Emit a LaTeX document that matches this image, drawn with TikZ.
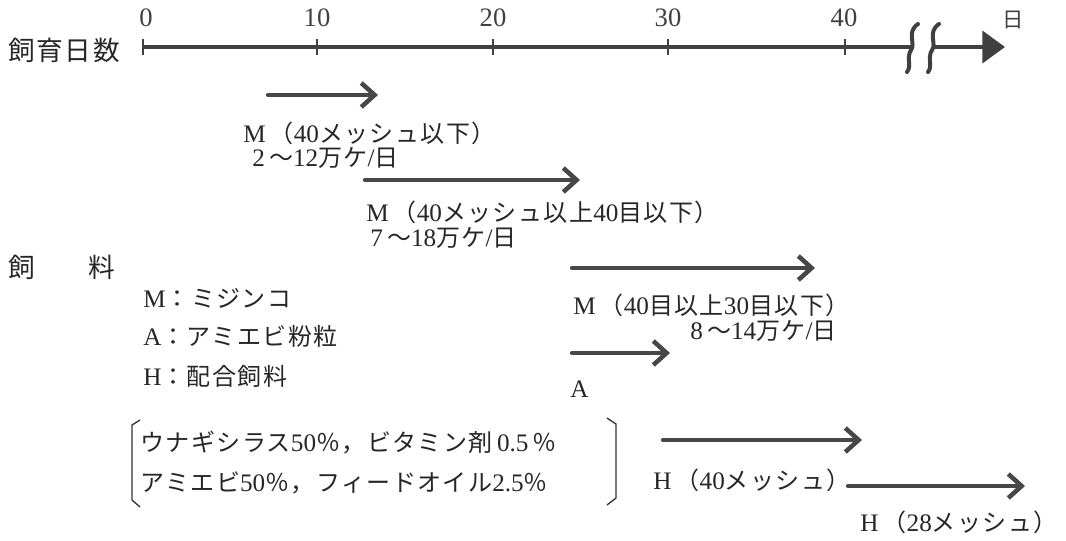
\documentclass[tikz,border=0pt]{standalone}
\usepackage{fontspec}
\setmainfont{Liberation Serif}[Scale=1.05]
\newfontfamily\jpf{Noto Sans CJK JP}[LetterSpace=6]
\newcommand\jpt[1]{{\jpf #1}}
\usetikzlibrary{arrows.meta}
\tikzset{
  lbl/.style={font=\fontsize{18}{20}\selectfont, inner sep=0pt, anchor=west, text=black!85},
  big/.style={font=\fontsize{20}{22}\selectfont, inner sep=0pt, anchor=west, text=black!85},
  num/.style={font=\fontsize{19}{21}\selectfont, inner sep=0pt, text=black!75},
  feed/.style={draw=black!72, line width=3.2pt, line cap=round,
    -{Straight Barb[length=10pt,width=18pt,line width=3.4pt]}},
  axis/.style={draw=black!75, line width=3pt},
  tick/.style={draw=black!75, line width=2pt},
  brk/.style={draw=black!75, line width=3pt, line cap=round},
  brack/.style={draw=black!80, line width=1pt}
}
\begin{document}
\begin{tikzpicture}[x=0.75pt,y=-0.75pt]
\useasboundingbox (0,0) rectangle (1066,540);
% axis
\node[big] (title) at (8,50) {\jpt{飼育日数}};
\coordinate (a0) at (143,47);
\coordinate (a10) at (317,47);
\coordinate (a20) at (493,47);
\coordinate (a30) at (668,47);
\coordinate (a40) at (845,47);
\coordinate (b1) at (913,47);
\coordinate (b2) at (934,47);
\coordinate (aend) at (1005,47);
\draw[axis] (a0) -- (b1);
\draw[axis,-{Triangle[length=17pt,width=24pt]}] (b2) -- (aend);
\foreach \p in {a0,a10,a20,a30,a40}{
  \draw[tick] ([yshift=6pt]\p) -- ([yshift=-6pt]\p);
}
\draw[brk] (918,24) .. controls (906,32) and (916,44) .. (911,50) .. controls (906,58) and (912,66) .. (907,72);
\draw[brk] (939,24) .. controls (927,32) and (937,44) .. (932,50) .. controls (927,58) and (933,66) .. (928,72);
\node[num] (n0) at (146,18) {0};
\node[num] (n10) at (317,18) {10};
\node[num] (n20) at (493,18) {20};
\node[num] (n30) at (668,18) {30};
\node[num] (n40) at (844,18) {40};
\node[num,font=\fontsize{16}{18}\selectfont] (nday) at (1013,20) {\jpt{日}};
% feeds
\coordinate (f1s) at (268,95);  \coordinate (f1e) at (378,95);
\draw[feed] (f1s) -- (f1e);
\node[lbl] (l1a) at (243,133) {M\,\jpt{（}40\jpt{メッシュ以下）}};
\node[lbl] (l1b) at (252,158) {2\,\jpt{～}12\jpt{万ケ}/\jpt{日}};
\coordinate (f2s) at (365,180);  \coordinate (f2e) at (580,180);
\draw[feed] (f2s) -- (f2e);
\node[lbl] (l2a) at (366,212) {M\,\jpt{（}40\jpt{メッシュ以上}40\jpt{目以下）}};
\node[lbl] (l2b) at (370,238) {7\,\jpt{～}18\jpt{万ケ}/\jpt{日}};
\node[big] (k1) at (8,267) {\jpt{飼}};
\node[big] (k2) at (88,267) {\jpt{料}};
\coordinate (f3s) at (572,268);  \coordinate (f3e) at (815,268);
\draw[feed] (f3s) -- (f3e);
\node[lbl] (lm) at (143,298) {M\jpt{：ミジンコ}};
\node[lbl] (l3a) at (573,305) {M\,\jpt{（}40\jpt{目以上}30\jpt{目以下）}};
\node[lbl] (l3b) at (690,331) {8\,\jpt{～}14\jpt{万ケ}/\jpt{日}};
\node[lbl] (la) at (143,336) {A\jpt{：アミエビ粉粒}};
\coordinate (f4s) at (572,353);  \coordinate (f4e) at (670,353);
\draw[feed] (f4s) -- (f4e);
\node[lbl] (lh) at (143,376) {H\jpt{：配合飼料}};
\node[lbl] (l4) at (570,389) {A};
% composition
\draw[brack] (140,420) -- (132,425) -- (132,500) -- (140,507);
\draw[brack] (607,418) -- (616,424) -- (616,498) -- (607,505);
\node[lbl] (c1) at (140,443) {\jpt{ウナギシラス}50\jpt{％，ビタミン剤}\,0.5\,\jpt{％}};
\node[lbl] (c2) at (140,483) {\jpt{アミエビ}50\jpt{％，フィードオイル}2.5\jpt{％}};
\coordinate (f5s) at (663,440);  \coordinate (f5e) at (862,440);
\draw[feed] (f5s) -- (f5e);
\node[lbl] (l5) at (653,480) {H\,\jpt{（}40\jpt{メッシュ）}};
\coordinate (f6s) at (848,486);  \coordinate (f6e) at (1025,486);
\draw[feed] (f6s) -- (f6e);
\node[lbl] (l6) at (860,522) {H\,\jpt{（}28\jpt{メッシュ）}};
\end{tikzpicture}
\end{document}
